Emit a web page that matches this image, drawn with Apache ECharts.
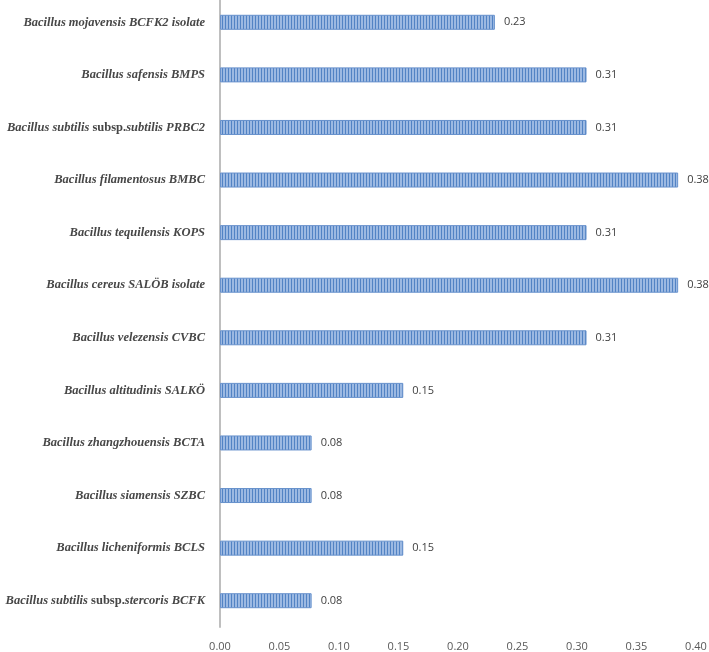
<!DOCTYPE html>
<html>
<head>
<meta charset="utf-8">
<script src="https://cdn.jsdelivr.net/npm/echarts@6/dist/echarts.min.js"></script>
<style>
  html, body { margin: 0; padding: 0; background: #fff; }
  #chart { width: 709px; height: 652px; }
</style>
</head>
<body>
<div id="chart"></div>
<script>
// categories top to bottom
var strains = [
    'Bacillus mojavensis BCFK2 isolate',
    'Bacillus safensis BMPS',
    'Bacillus subtilis|subsp.|subtilis PRBC2',
    'Bacillus filamentosus BMBC',
    'Bacillus tequilensis KOPS',
    'Bacillus cereus SALÖB isolate',
    'Bacillus velezensis CVBC',
    'Bacillus altitudinis SALKÖ',
    'Bacillus zhangzhouensis BCTA',
    'Bacillus siamensis SZBC',
    'Bacillus licheniformis BCLS',
    'Bacillus subtilis|subsp.|stercoris BCFK'
];
var ratios = [0.231, 0.308, 0.308, 0.385, 0.308, 0.385, 0.308, 0.154, 0.077, 0.077, 0.154, 0.077];
var ratioLabels = ['0.23', '0.31', '0.31', '0.38', '0.31', '0.38', '0.31', '0.15', '0.08', '0.08', '0.15', '0.08'];
var xTicks = ['0.00', '0.05', '0.10', '0.15', '0.20', '0.25', '0.30', '0.35', '0.40'];

// striped fill like the original
function stripes() {
    var c = document.createElement('canvas');
    c.width = 3; c.height = 4;
    var ctx = c.getContext('2d');
    ctx.fillStyle = '#9cb9e2';
    ctx.fillRect(0, 0, 3, 4);
    ctx.fillStyle = '#5283c4';
    ctx.fillRect(0, 0, 1, 4);
    return c;
}

var dom = document.getElementById('chart');
var myChart = echarts.init(dom);
var option = {
    animation: false,
    grid: { left: 220, right: 13, top: -4, height: 631, outerBoundsMode: 'none', containLabel: false },
    xAxis: {
        type: 'value',
        min: 0,
        max: 0.4,
        interval: 0.05,
        axisLine: { show: false },
        axisTick: { show: false },
        splitLine: { show: false },
        axisLabel: {
            margin: 14,
            color: '#595959',
            fontFamily: 'Open Sans',
            fontSize: 11,
            formatter: function (v) { return xTicks[Math.round(v / 0.05)]; }
        }
    },
    yAxis: {
        type: 'category',
        inverse: true,
        data: strains,
        axisLine: { lineStyle: { color: '#bfbfbf', width: 2 } },
        axisTick: { show: false },
        axisLabel: {
            margin: 15,
            formatter: function (v) {
                var p = v.split('|');
                if (p.length === 1) return '{i|' + v + '}';
                return '{i|' + p[0] + ' }{n|' + p[1] + '}{i|' + p[2] + '}';
            },
            rich: {
                i: { fontFamily: 'Liberation Serif', fontStyle: 'italic', fontWeight: 'bold', fontSize: 12.5, color: '#474747' },
                n: { fontFamily: 'Liberation Serif', fontWeight: 'bold', fontSize: 12.5, color: '#474747' }
            }
        }
    },
    series: [{
        type: 'bar',
        data: ratios,
        barWidth: 15,
        itemStyle: {
            color: { image: stripes(), repeat: 'repeat' },
            borderColor: '#6791cc',
            borderWidth: 1
        },
        label: {
            show: true,
            position: 'right',
            distance: 9,
            color: '#404040',
            fontFamily: 'Open Sans',
            fontSize: 11,
            formatter: function (p) { return ratioLabels[p.dataIndex]; }
        }
    }]
};
myChart.setOption(option);
</script>
</body>
</html>
